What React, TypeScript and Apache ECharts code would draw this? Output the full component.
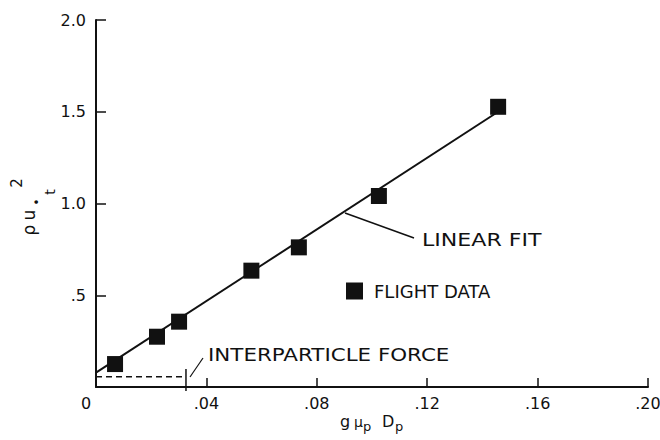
import React, { useEffect, useRef } from "react";
import * as echarts from "echarts";

// Flight data
const flightX = [0.0069, 0.0221, 0.0301, 0.0563, 0.0735, 0.1025, 0.1457];
const flightY = [0.125, 0.274, 0.356, 0.634, 0.761, 1.041, 1.527];

// Linear fit end points
const fitX = [0, 0.1457];
const fitY = [0.078, 1.5];

// Interparticle force level (dashed) and its end marker
const forceX = [0, 0.0326];
const forceY = [0.056, 0.056];
const forceMarkX = [0.0326, 0.0326];
const forceMarkY = [-0.022, 0.098];

// Axis tick definitions
const xTicks = { min: 0, max: 0.2, interval: 0.04 };
const yTicks = { min: 0, max: 2.0, interval: 0.5 };

const FONT = "DejaVu Sans";
const INK = "#111";

export default function App() {
  const ref = useRef<HTMLDivElement>(null);

  useEffect(() => {
    document.body.style.margin = "0";
    if (!ref.current) return;
    const chart = echarts.init(ref.current, null, { renderer: "svg" });

    const zip = (xs: number[], ys: number[]) => xs.map((x, i) => [x, ys[i]]);

    const option: any = {
      animation: false,
      backgroundColor: "#fff",
      grid: { left: 96, right: 12, top: 20, bottom: 53, containLabel: false, outerBoundsMode: "none" },
      legend: {
        data: [{ name: "FLIGHT DATA", icon: "rect" }],
        left: 341,
        top: 277,
        itemWidth: 17,
        itemHeight: 17,
        itemStyle: { color: INK, opacity: 1 },
        textStyle: { fontSize: 18, fontFamily: FONT, color: INK, padding: [0, 0, 0, 6] },
      },
      xAxis: {
        type: "value",
        min: xTicks.min,
        max: xTicks.max,
        interval: xTicks.interval,
        axisLine: { show: true, onZero: false, lineStyle: { color: INK, width: 2 } },
        axisTick: { show: true, inside: true, length: 9, lineStyle: { color: INK, width: 1.5 } },
        splitLine: { show: false },
        axisLabel: {
          margin: 8,
          fontSize: 16,
          fontFamily: FONT,
          color: INK,
          formatter: (v: number) =>
            v === 0 ? "{z|0}" : "." + String(Math.round(v * 100)).padStart(2, "0"),
          rich: { z: { fontSize: 16, fontFamily: FONT, color: INK, padding: [0, 20, 0, 0] } },
        },
      },
      yAxis: {
        type: "value",
        min: yTicks.min,
        max: yTicks.max,
        interval: yTicks.interval,
        axisLine: { show: true, onZero: false, lineStyle: { color: INK, width: 2 } },
        axisTick: { show: true, inside: true, length: 10, lineStyle: { color: INK, width: 1.5 } },
        splitLine: { show: false },
        axisLabel: {
          margin: 10,
          fontSize: 16,
          fontFamily: FONT,
          color: INK,
          formatter: (v: number) => (v === 0 ? "" : v < 1 ? "." + Math.round(v * 10) : v.toFixed(1)),
        },
      },
      series: [
        {
          name: "LINEAR FIT",
          type: "line",
          data: zip(fitX, fitY),
          showSymbol: false,
          symbol: "none",
          lineStyle: { color: INK, width: 2 },
          z: 2,
        },
        {
          name: "INTERPARTICLE FORCE",
          type: "line",
          data: zip(forceX, forceY),
          symbol: "none",
          lineStyle: { color: INK, width: 1.5, type: [6, 4] },
        },
        {
          name: "force marker",
          type: "line",
          data: zip(forceMarkX, forceMarkY),
          symbol: "none",
          clip: false,
          lineStyle: { color: INK, width: 1.5 },
        },
        {
          name: "FLIGHT DATA",
          type: "scatter",
          data: zip(flightX, flightY),
          symbol: "rect",
          symbolSize: 16,
          itemStyle: { color: INK, opacity: 1 },
          z: 3,
        },
      ],
      graphic: [
        // Y axis title: rho u*t^2 (rotated)
        {
          type: "group",
          x: 30,
          y: 207,
          rotation: Math.PI / 2,
          children: [
            { type: "text", x: -23, y: -1, style: { text: "ρ", fontSize: 17, fontFamily: FONT, fill: INK, textAlign: "center", textVerticalAlign: "middle" } },
            { type: "text", x: -8, y: -1, style: { text: "u", fontSize: 17, fontFamily: FONT, fill: INK, textAlign: "center", textVerticalAlign: "middle" } },
            { type: "text", x: 5, y: 7, style: { text: "•", fontSize: 12, fontFamily: FONT, fill: INK, textAlign: "center", textVerticalAlign: "middle" } },
            { type: "text", x: 15, y: 20, style: { text: "t", fontSize: 14, fontFamily: FONT, fill: INK, textAlign: "center", textVerticalAlign: "middle" } },
            { type: "text", x: 24, y: -13, style: { text: "2", fontSize: 15, fontFamily: FONT, fill: INK, textAlign: "center", textVerticalAlign: "middle" } },
          ],
        },
        // X axis title: g mu_p D_p
        { type: "text", x: 340, y: 421, style: { text: "g", fontSize: 16, fontFamily: FONT, fill: INK, textAlign: "left", textVerticalAlign: "middle" } },
        { type: "text", x: 354, y: 422, style: { text: "μ", fontSize: 14, fontFamily: FONT, fill: INK, textAlign: "left", textVerticalAlign: "middle" } },
        { type: "text", x: 363, y: 426, style: { text: "p", fontSize: 13, fontFamily: FONT, fill: INK, textAlign: "left", textVerticalAlign: "middle" } },
        { type: "text", x: 382, y: 421, style: { text: "D", fontSize: 16, fontFamily: FONT, fill: INK, textAlign: "left", textVerticalAlign: "middle" } },
        { type: "text", x: 395, y: 426, style: { text: "p", fontSize: 13, fontFamily: FONT, fill: INK, textAlign: "left", textVerticalAlign: "middle" } },
        // Annotations
        { type: "line", shape: { x1: 345, y1: 213, x2: 414, y2: 238 }, style: { stroke: INK, lineWidth: 1.5 } },
        {
          type: "text", x: 422, y: 240, scaleX: 1.3,
          style: { text: "LINEAR FIT", x: 0, y: 0, fontSize: 17, fontFamily: FONT, fill: INK, textAlign: "left", textVerticalAlign: "middle" },
        },
        { type: "line", shape: { x1: 190, y1: 377, x2: 203, y2: 358 }, style: { stroke: INK, lineWidth: 1.2 } },
        {
          type: "text", x: 208, y: 355, scaleX: 1.26,
          style: { text: "INTERPARTICLE FORCE", x: 0, y: 0, fontSize: 17, fontFamily: FONT, fill: INK, textAlign: "left", textVerticalAlign: "middle" },
        },
      ],
    };

    chart.setOption(option);
    return () => chart.dispose();
  }, []);

  return <div ref={ref} style={{ width: 660, height: 440 }} />;
}
